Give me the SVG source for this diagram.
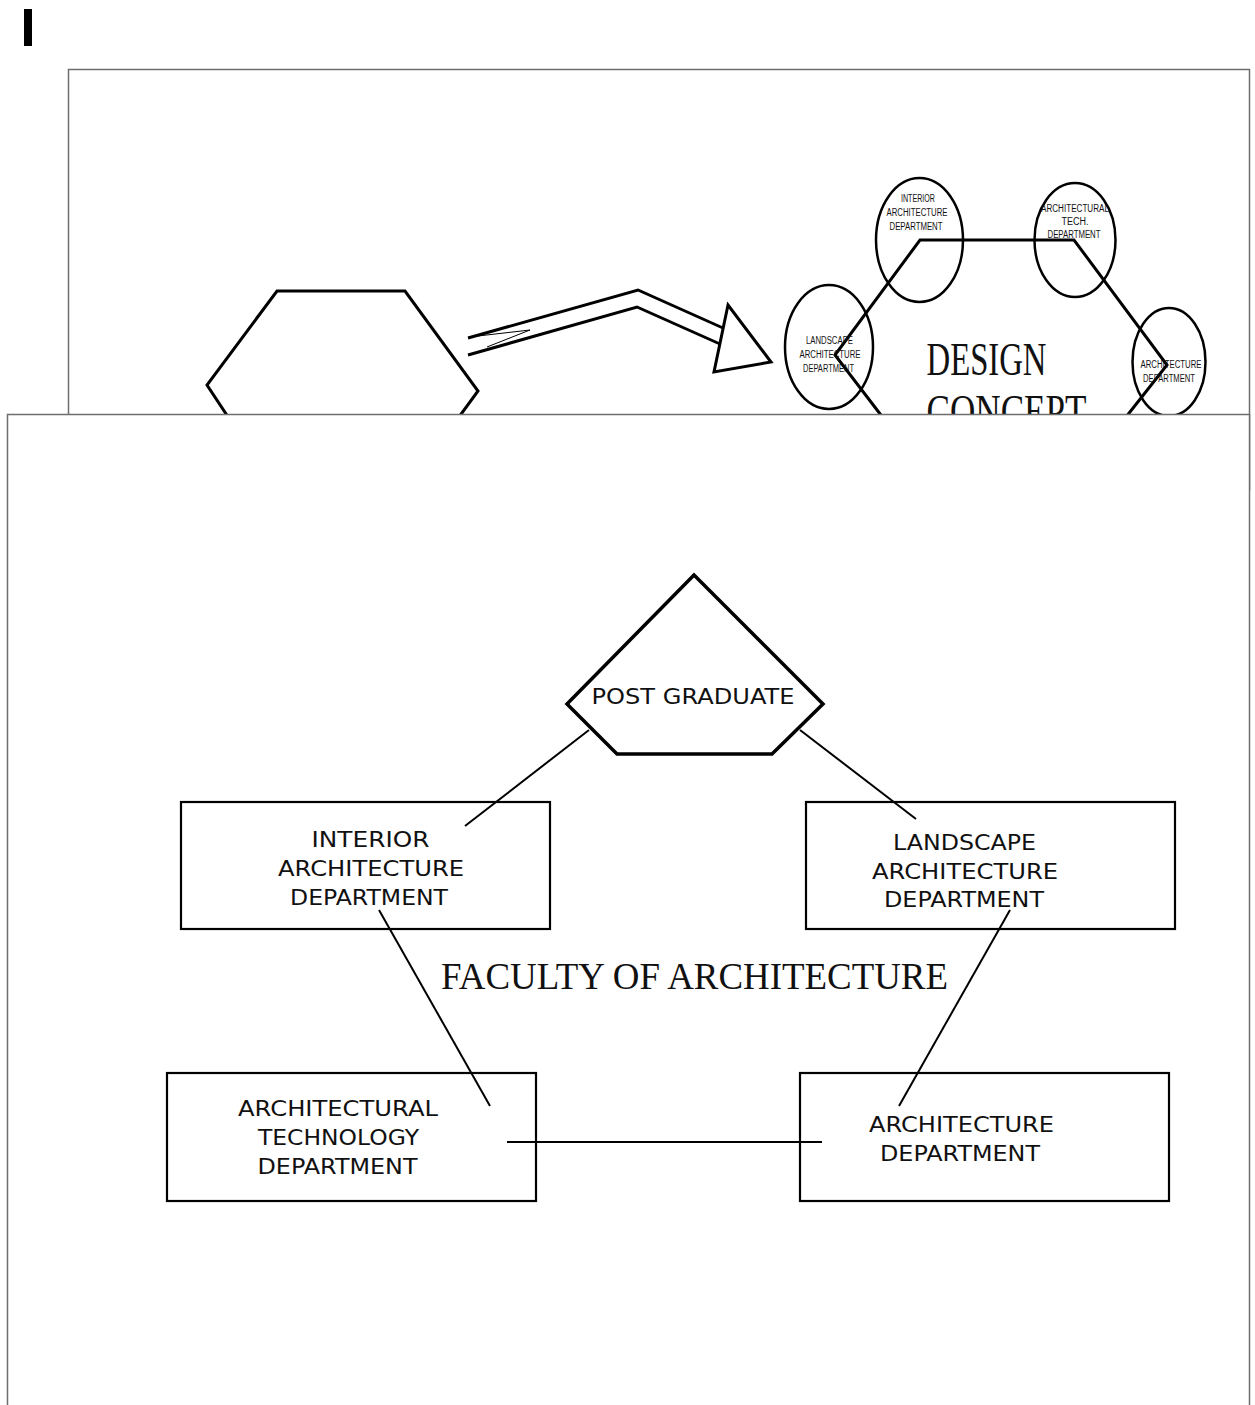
<svg xmlns="http://www.w3.org/2000/svg" width="1255" height="1405" viewBox="0 0 1255 1405">
<style>
.panel{fill:#fff;stroke:#6e6e6e;stroke-width:1.5}
.thick{fill:none;stroke:#000;stroke-width:3;stroke-linejoin:miter}
.ell{fill:none;stroke:#000;stroke-width:2.5}
.small{font-family:"Liberation Sans","DejaVu Sans",sans-serif;font-size:10px;fill:#111;text-anchor:middle}
.big{font-family:"Liberation Serif","DejaVu Serif",serif;font-size:47px;fill:#111}
.box{fill:#fff;stroke:#000;stroke-width:2.2}
.lbl{font-family:"DejaVu Sans","Verdana",sans-serif;font-size:22px;fill:#111;text-anchor:middle}
.conn{fill:none;stroke:#000;stroke-width:2}
.title{font-family:"Liberation Serif","DejaVu Serif",serif;font-size:37px;fill:#111}
</style>
<rect x="0" y="0" width="1255" height="1405" fill="#fff"/>
<rect id="mark" x="24" y="9" width="8" height="37" fill="#000"/>

<g id="top-panel">
<rect class="panel" x="68.5" y="69.5" width="1181" height="420"/>
<polygon id="hexagon" class="thick" points="277,291 405,291 478,391 405,491 277,491 207,385"/>
<g id="double-arrow">
<polyline class="thick" points="468,338 638,290 723,328"/>
<polyline class="thick" points="468,355 637,307 720,344"/>
<polyline fill="none" stroke="#000" stroke-width="1" points="478,336 530,330 487,347"/>
<polygon class="thick" points="728,305 771,362 714,372"/>
</g>
<polyline id="concept-hex" class="thick" points="900,440 835,355 920,240 1074,240 1167,365 1100,450"/>
<g id="c-interior">
<ellipse class="ell" cx="919.5" cy="240" rx="43.5" ry="62"/>
<text class="small"><tspan x="918" y="202" textLength="34" lengthAdjust="spacingAndGlyphs">INTERIOR</tspan><tspan x="917" y="216" textLength="61" lengthAdjust="spacingAndGlyphs">ARCHITECTURE</tspan><tspan x="916" y="229.5" textLength="53" lengthAdjust="spacingAndGlyphs">DEPARTMENT</tspan></text>
</g>
<g id="c-tech">
<ellipse class="ell" cx="1075" cy="240" rx="40.5" ry="57"/>
<text class="small"><tspan x="1075" y="211.5" textLength="68" lengthAdjust="spacingAndGlyphs">ARCHITECTURAL</tspan><tspan x="1075" y="225" textLength="27" lengthAdjust="spacingAndGlyphs">TECH.</tspan><tspan x="1074" y="238" textLength="53" lengthAdjust="spacingAndGlyphs">DEPARTMENT</tspan></text>
</g>
<g id="c-landscape">
<ellipse class="ell" cx="829" cy="347" rx="44" ry="62"/>
<text class="small"><tspan x="829.5" y="344" textLength="47" lengthAdjust="spacingAndGlyphs">LANDSCAPE</tspan><tspan x="830" y="358" textLength="61" lengthAdjust="spacingAndGlyphs">ARCHITECTURE</tspan><tspan x="828.5" y="372" textLength="51" lengthAdjust="spacingAndGlyphs">DEPARTMENT</tspan></text>
</g>
<g id="c-architecture">
<ellipse class="ell" cx="1169" cy="362" rx="36.5" ry="54"/>
<text class="small"><tspan x="1171" y="367.5" textLength="61" lengthAdjust="spacingAndGlyphs">ARCHITECTURE</tspan><tspan x="1169" y="381.5" textLength="52" lengthAdjust="spacingAndGlyphs">DEPARTMENT</tspan></text>
</g>
<text class="big" x="926.5" y="375" textLength="120" lengthAdjust="spacingAndGlyphs">DESIGN</text>
<text class="big" x="926.5" y="427" textLength="160" lengthAdjust="spacingAndGlyphs">CONCEPT</text>
</g>

<rect id="bottom-panel" class="panel" x="7.5" y="414.5" width="1242" height="1000"/>

<g id="connectors">
<line class="conn" x1="589" y1="730" x2="465" y2="826"/>
<line class="conn" x1="800" y1="730" x2="916" y2="819"/>
<line class="conn" x1="379" y1="910" x2="490" y2="1106"/>
<line class="conn" x1="1010" y1="910" x2="899" y2="1106"/>
<line class="conn" x1="507" y1="1142" x2="822" y2="1142"/>
</g>

<g id="post-graduate">
<polygon fill="none" stroke="#000" stroke-width="3.5" points="694,575 823,704 772,754 617,754 567,704"/>
<text class="lbl" x="693" y="704" textLength="203" lengthAdjust="spacingAndGlyphs">POST GRADUATE</text>
</g>

<g id="interior">
<rect class="box" x="181" y="802" width="369" height="127" fill="none" style="fill:none"/>
<text class="lbl"><tspan x="370.5" y="846.5" textLength="118" lengthAdjust="spacingAndGlyphs">INTERIOR</tspan><tspan x="371" y="876" textLength="186" lengthAdjust="spacingAndGlyphs">ARCHITECTURE</tspan><tspan x="369" y="904.5" textLength="158" lengthAdjust="spacingAndGlyphs">DEPARTMENT</tspan></text>
</g>

<g id="landscape">
<rect class="box" x="806" y="802" width="369" height="127" style="fill:none"/>
<text class="lbl"><tspan x="964.5" y="850" textLength="143" lengthAdjust="spacingAndGlyphs">LANDSCAPE</tspan><tspan x="965" y="878.5" textLength="186" lengthAdjust="spacingAndGlyphs">ARCHITECTURE</tspan><tspan x="964" y="907" textLength="160" lengthAdjust="spacingAndGlyphs">DEPARTMENT</tspan></text>
</g>

<text id="faculty" class="title" x="441" y="989" textLength="507" lengthAdjust="spacingAndGlyphs">FACULTY OF ARCHITECTURE</text>

<g id="arch-tech">
<rect class="box" x="167" y="1073" width="369" height="128" style="fill:none"/>
<text class="lbl"><tspan x="338" y="1116" textLength="200" lengthAdjust="spacingAndGlyphs">ARCHITECTURAL</tspan><tspan x="338.5" y="1145" textLength="161" lengthAdjust="spacingAndGlyphs">TECHNOLOGY</tspan><tspan x="337.5" y="1174" textLength="160" lengthAdjust="spacingAndGlyphs">DEPARTMENT</tspan></text>
</g>

<g id="architecture">
<rect class="box" x="800" y="1073" width="369" height="128" style="fill:none"/>
<text class="lbl"><tspan x="961.5" y="1132" textLength="185" lengthAdjust="spacingAndGlyphs">ARCHITECTURE</tspan><tspan x="960" y="1160.5" textLength="160" lengthAdjust="spacingAndGlyphs">DEPARTMENT</tspan></text>
</g>
</svg>
